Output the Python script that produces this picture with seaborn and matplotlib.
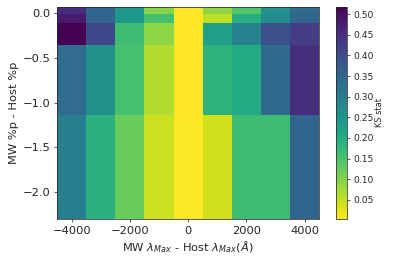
import matplotlib
matplotlib.use("Agg")
import matplotlib.pyplot as plt
import numpy as np
import seaborn as sns

# bin edges of the 2D grid
x_edges = [-4500, -3500, -2500, -1500, -500, 500, 1500, 2500, 3500, 4500]
y_edges = [0.075, -0.01, -0.11, -0.36, -1.14, -2.31]

# KS stat per row (top to bottom), one value per x bin
row_0 = [0.450, 0.350, 0.245, 0.095, 0.005, 0.090, 0.142, 0.260, 0.338]
row_1 = [0.480, 0.355, 0.245, 0.157, 0.004, 0.055, 0.198, 0.270, 0.353]
row_2 = [0.518, 0.405, 0.163, 0.090, 0.004, 0.225, 0.290, 0.390, 0.425]
row_3 = [0.338, 0.260, 0.152, 0.065, 0.003, 0.188, 0.204, 0.343, 0.450]
row_4 = [0.300, 0.190, 0.120, 0.044, 0.006, 0.040, 0.163, 0.163, 0.353]

ks = np.array([row_0, row_1, row_2, row_3, row_4])

sns.set_style("ticks")
cmap = sns.color_palette("viridis_r", as_cmap=True)

fig = plt.figure(figsize=(6, 4), dpi=66)
ax = fig.add_axes([0.144, 0.169, 0.662, 0.806])
cax = fig.add_axes([0.848, 0.169, 0.028, 0.806])

mesh = ax.pcolormesh(x_edges, y_edges, ks, cmap=cmap,
                     vmin=ks.min(), vmax=ks.max())
ax.set_xlim(-4500, 4500)
ax.set_ylim(-2.31, 0.075)
ax.set_xticks([-4000, -2000, 0, 2000, 4000])
ax.set_yticks([0.0, -0.5, -1.0, -1.5, -2.0])
ax.tick_params(labelsize=12.5)
ax.set_xlabel(r'MW $\lambda_{Max}$ - Host $\lambda_{Max}(Å)$', fontsize=12.5)
ax.set_ylabel('MW %p - Host %p', fontsize=12.5)

cb = fig.colorbar(mesh, cax=cax)
cb.set_ticks([0.05, 0.10, 0.15, 0.20, 0.25, 0.30, 0.35, 0.40, 0.45, 0.50])
cb.ax.tick_params(labelsize=10)
cb.set_label('KS stat', fontsize=9, labelpad=1)

fig.savefig('out.png', dpi=66)
